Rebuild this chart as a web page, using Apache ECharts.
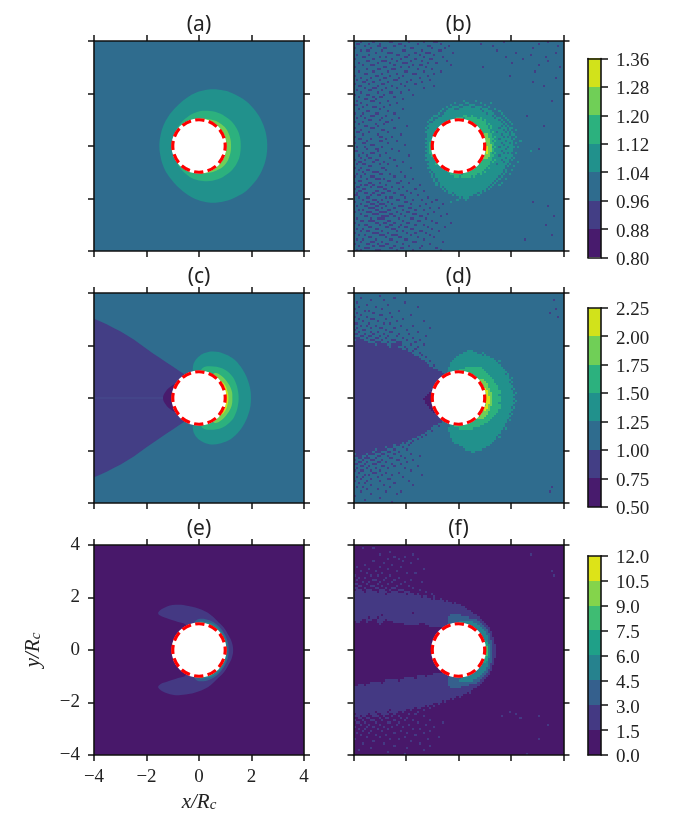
<!DOCTYPE html>
<html>
<head>
<meta charset="utf-8">
<style>html,body{margin:0;padding:0;background:#fff}#main{width:692px;height:830px}</style>
<script src="https://cdn.jsdelivr.net/npm/echarts@6/dist/echarts.min.js"></script>
</head>
<body>
<div id="main"></div>
<script>
const colors7 = ['#481b6d', '#433e85', '#2f6c8e', '#21918c', '#2cb17e', '#70cf57', '#d2e21b'];
const colors8 = ['#48186a', '#443983', '#35608d', '#26828e', '#1fa088', '#3fbc73', '#84d44b', '#dde318'];

const titles = ['(a)', '(b)', '(c)', '(d)', '(e)', '(f)'];
const axisTicks = [-4, -2, 0, 2, 4];
const cbTicks1 = [0.80, 0.88, 0.96, 1.04, 1.12, 1.20, 1.28, 1.36];
const cbTicks2 = [0.50, 0.75, 1.00, 1.25, 1.50, 1.75, 2.00, 2.25];
const cbTicks3 = [0.0, 1.5, 3.0, 4.5, 6.0, 7.5, 9.0, 10.5, 12.0];

// contour outlines, upper half (y>=0), lower half is the mirror
const aLevel3 = [[2.6,0],[2.58,0.3],[2.52,0.6],[2.41,0.9],[2.25,1.2],[2.05,1.46],[1.81,1.7],[1.52,1.89],[1.18,2.05],[0.85,2.13],[0.53,2.16],[0.2,2.12],[-0.12,2.03],[-0.42,1.87],[-0.7,1.65],[-0.97,1.38],[-1.2,1.08],[-1.37,0.74],[-1.47,0.37],[-1.51,0]];
const aLevel4 = [[1.59,0],[1.56,0.33],[1.47,0.6],[1.3,0.87],[1.07,1.08],[0.72,1.27],[0.3,1.34],[-0.1,1.29],[-0.45,1.1],[-0.75,0.8],[-0.93,0.45],[-0.98,0]];
const aLevel5 = [[1.22,0],[1.2,0.25],[1.12,0.5],[0.98,0.72],[0.78,0.88],[0.55,0.98],[0.3,1.03],[0.1,1.03],[0,0.9],[0,0]];

const cWedge = [[0,0],[0,0.55],[-0.5,0.87],[-0.75,1.03],[-1,1.2],[-1.25,1.36],[-1.5,1.53],[-1.75,1.7],[-2,1.88],[-2.25,2.06],[-2.5,2.24],[-2.75,2.39],[-3,2.54],[-3.25,2.67],[-3.5,2.8],[-3.75,2.91],[-4,3.02],[-4.4,3.2],[-4.4,0]];
const cLobe = [[-0.4,0],[-0.4,0.5],[-0.84,0.55],[-1.1,0.42],[-1.3,0.2],[-1.37,0]];
const cSeam = [[-4,0],[-1.37,0]];
const cLevel3 = [[1.98,0],[1.96,0.3],[1.88,0.62],[1.74,0.95],[1.53,1.27],[1.27,1.52],[0.95,1.69],[0.56,1.77],[0.25,1.72],[0.02,1.6],[-0.15,1.42],[-0.23,1.2],[-0.22,0.95],[0,0]];
const cLevel4 = [[1.51,0],[1.48,0.3],[1.4,0.58],[1.25,0.85],[0.9,1.12],[0.43,1.21],[0.15,1.15],[0.05,0.95],[0,0]];
const cLevel5 = [[1.27,0],[1.24,0.3],[1.08,0.6],[0.85,0.85],[0.6,0.95],[0.5,0.8],[0,0]];
const cLevel6 = [[1.12,0],[1.07,0.3],[0.95,0.55],[0.8,0.62],[0,0]];

const eLevel1 = [[1.3,0],[1.25,0.3],[1.13,0.55],[0.95,0.85],[0.75,1.05],[0.45,1.33],[0.11,1.53],[-0.4,1.68],[-0.9,1.72],[-1.3,1.62],[-1.55,1.44],[-1.5,1.32],[-1.2,1.2],[-0.8,1.07],[-0.5,0.95],[0,0]];
const eLevel2 = [[1.13,0],[1.1,0.3],[0.95,0.65],[0.7,0.95],[0.4,1.13],[0.05,1.19],[-0.15,1.1],[-0.2,0.95],[0,0]];
const eLevel3 = [[1.07,0],[1.03,0.35],[0.85,0.7],[0.55,0.98],[0.25,1.07],[0,1.05],[0,0]];
const eLevel4 = [[1.04,0],[1.0,0.35],[0.85,0.6],[0.65,0.82],[0.4,0.95],[0,0]];
const eLevel5 = [[1.02,0],[0.98,0.2],[0.92,0.45],[0,0]];

// binned panels: one string per row from the top, "level:col col-col,level:..."
const bRows = [
'1:3 9 17-18 26 33 38-39 71 92',
'1:1-2 7 12 21-22 30 41 60 88',
'1:5 11-12 19 24 35-36 45 66 97',
'1:0 8 14-15 27-28 37 43 85',
'1:3 6-7 13 23-24 32 40-41 68',
'1:10 16-18 29 34-36 47 77 96',
'1:1 7 20-21 26 31 38 84',
'1:4-5 12 15 24-25 33 42 72 91',
'1:0 9 18 22 29 36-37 80',
'1:6-7 13-15 20 27 32 44 92',
'1:2 11 17 23-25 35 39 75',
'1:4 8-9 19 28 31-32 46 88',
'1:0 14-15 22 26 34 61 98',
'1:6 11-12 18-19 30 37',
'1:2 9 16 24-25 33 41 86',
'1:5-6 13 20 28-29 38',
'1:0 10-11 17 23 35 74',
'1:3 8 14-15 21 31 96',
'1:1 6 12 19-20 27 36',
'1:4-5 9 16 25 32 85',
'1:0 7 13-14 22 29',
'1:2-3 11 18 24 38 90',
'1:5 9-10 15 20 33',
'1:1 7-8 13 26',
'1:3 11 17-18 22',
'1:0 6-7 14 28',
'1:2 9 12-13 19',
'1:5-6 10 23',
'1:1 8-9 16 94,3:52 58',
'1:3 12 20,3:48 53-54 60 65',
'1:0-1 6 17,3:46 50-51 55-57 62',
'1:4 9-10 14,3:44 47-49 52-55 58-60 64',
'1:2 12 23,3:42 45-47 50-59 61-63 67',
'1:6-7 16,3:41 44-60 62-65 69',
'1:0 4 10-11 19,3:40 43-62 64-66 70',
'1:3 8-9 15 82,3:38-39 42-65 67 71,4:52-53 56',
'1:1 5 13 21,3:37 40-66 68-69 72,4:49-51 53-58 60',
'1:7-8 12 18,3:36-37 39-68 70 73,4:46-48 50-60 62',
'1:0 4 15-16,3:35 38-69 71 74,4:44-47 49-62',
'1:2 10 14,3:36-70 72 75,4:46 56-62 64',
'1:5-6 11 25 90,3:35-71 73,4:55-63 65,2:70',
'1:0 8-9 19,3:34 36-72 74-75,4:56-63 65,2:69',
'1:3 13-14,3:35-72 74 77,4:57-64,2:71',
'1:1-2 7 16,3:34-73 75,4:58-64 66,2:68 72',
'1:4 11 22,3:35-73 75-76,4:58-65,5:62-63,2:70',
'1:0 12-13 18,3:35-74 77,4:59-65 67,5:62-63,2:71 73',
'1:2-3 8 15,3:34-74 76,4:59-66,5:62-64,2:69',
'1:6 12-13 20,3:35-75 79,4:59-65 67,5:62-64,2:72',
'1:0 4-5 16,3:34-75 77,4:59-66,4:36-37,5:63-64,2:70 74',
'1:8-9 24,3:35-75,4:59-66,4:36,5:63-65,2:71',
'1:1 5 13,3:34-76 78,4:59-65 67,4:36-37,5:63-65,6:63,2:69 73',
'1:6 10-11 18 88,3:35-75,4:59-66,4:36-37,5:63-65,6:63,2:72',
'1:0-1 11 21,3:34-75 84,4:59-66,4:36,5:63-65,6:63,2:70',
'1:4 8-9 15,3:35-74 77,4:59-65 67,4:36-37,5:62-64,6:63,2:71 73',
'1:2 6 12 26,3:34-75,4:58-66,4:37,5:61-64,2:69',
'1:3 7-8 17,3:35-74 76,4:58-65,5:61-63,2:72',
'1:0 5 10-11 19,3:34-73 75,4:57-65 67,2:70',
'1:2-3 9 14 23,3:36-73 78,4:56-64 66,2:71',
'1:1 4-5 12 16,3:35-72 74,4:54-64 39-41,2:68',
'1:7-8 20,3:36-71 73 76,4:50-63 42-45',
'1:0 3 13-14 27,3:35-71,4:46-62 64',
'1:2 6-7 15,3:37-70 72 75,4:44-61',
'1:4 9-11 22,3:36 38-70 72,4:45-60 62',
'1:1 5 12-13 17,3:37 39-69 71 74,4:46-50 52-58 60',
'1:0 3 8-9 19 24,3:37 39-68 70,4:48-49 51-55 57',
'1:6 10-12 14 28,3:38 40-67 69 72',
'1:2-3 16-17 22,3:38 40-66 68',
'1:0 7-8 12 20-21 26,3:39 41-65 67 70',
'1:3 5-6 9 15 31,3:39 41-64 66 69',
'1:1-2 8 11-13 18 23,3:41 43-63 65',
'1:0 4-5 14-15 21 29,3:42 44-62 64',
'1:2-3 10-11 16-17 25 33,3:43 45-60 62',
'1:1 5-6 9 13-14 19 27,3:45-46 48-58 60',
'1:0-1 8 11-12 22-23 30,3:47 49-56 59',
'1:2 6-7 15 17-18 24 35,3:50 52-54',
'1:4 9-10 13 20-21 28 32 39,3:49 53',
'1:0 6-7 11 16 24-25 37 85,3:46',
'1:3 8-9 12-14 18 27 34 42',
'1:1 5-6 10-11 15 21-23 31 92',
'1:7-9 13 19 26-27 36 40',
'1:2 4 10-11 16-17 23 29 33',
'1:0 6-8 12-15 20 25-26 38',
'1:3 9-11 17-18 22 28-29 35 44',
'1:5-6 13-16 19 24 31-32 41 95',
'1:1 8 11-14 21 27-28 34',
'1:3-4 7-9 16-17 23 30-31 37',
'1:0 10-11 14-15 19 25-26 39 46',
'1:2 5-6 12 17-18 22 29 33 91',
'1:7-8 15-16 21 24-25 35 43',
'1:1 4 10-11 18-19 27-28 37',
'1:3 6-7 13 20 23 31-32 40',
'1:0 9-11 16 25 29 34',
'1:2 5 12-14 18-20 27 36 94',
'1:7-8 15 21-22 30 38',
'1:1 4 10 17-18 24-25 33 81',
'1:3 8-9 13 20 28-29 42',
'1:0 6-7 11 15-16 23 36',
'1:2 9 12-14 19 26 32',
'1:5-7 17-18 22-23 31 39',
'1:1 3 10-12 20 28 41'
];

const dRows = [
'',
'1:12',
'1:3 19',
'1:8 14 95',
'1:1 24',
'1:6 16',
'1:2 10 30',
'1:0 13 96',
'1:5 7 21',
'1:1 9 17 93',
'1:3 12-13 27',
'1:0 6 18 97',
'1:2 8-9 15 23',
'1:4 11 20 33',
'1:0-1 7 14 17',
'1:3 6 10 22 28',
'1:1 8 12-13 19 36',
'1:0 4-5 15 25',
'1:2 8 11 17-18 30',
'1:0-1 5 9 14 21 26',
'1:3-4 7-8 12 16 20 34',
'1:0-2 6 10-11 15 23 28',
'1:1-4 8-9 13 18-19 25 31',
'1:0-6 10-12 16 20-22 29',
'1:0-9 11-15 18-22 27 33',
'1:0-16 18-20 24 30',
'1:0-22 25 29',
'1:0-25 28,3:54-56',
'1:0-27 31,3:52-58 61',
'1:0-28 32,3:50-60 62',
'1:0-30 34,3:49-64',
'1:0-31,3:48-66',
'1:0-33 36,3:47-67 69',
'1:0-34,3:46-68',
'1:0-35 38,3:46-69',
'1:0-37,3:45-70,4:53-60',
'1:0-39,3:45-71,4:50-61',
'1:0-41,3:45-72,4:49-62',
'1:0-42,3:46-71 73,4:49-63',
'1:0-45,3:52-73,4:52-64',
'1:0-45,3:54-73 75,4:54-65',
'1:0-45,3:55-74,4:55-66,5:59-61',
'1:0-45,3:56-73 75,4:56-66,5:60-62',
'1:0-45,3:56-74,4:56-67,5:60-63',
'1:0-45,3:57-75,4:57-68,5:61-63',
'1:0-45,3:57-74 76,4:57-68,5:61-64,6:62',
'1:0-45,3:57-75,4:57-69,5:61-64,6:62-63,0:37-39',
'1:0-45,3:57-75 77,4:57-69,5:61-65,6:63,0:36-39',
'1:0-45,3:57-76,4:57-68,5:61-65,6:63,0:35-38',
'1:0-45,3:57-75,4:57-69,5:61-65,6:63-64,0:34-38',
'1:0-45,3:57-76,4:57-69,5:61-65,6:63-64,0:33-38',
'1:0-45,3:57-75 77,4:57-69,5:61-65,6:63-64,0:34-38',
'1:0-45,3:57-76,4:57-68,5:61-65,6:63-64,0:34-38',
'1:0-45,3:57-75,4:57-69,5:61-65,6:63,0:35-38',
'1:0-45,3:57-74 76,4:57-69,5:61-64,6:62-63,0:36-39',
'1:0-45,3:57-75,4:57-68,5:61-64,6:62,0:37-40',
'1:0-45,3:56-74,4:56-68,5:61-63,0:38-40',
'1:0-45,3:56-73 75,4:56-67,5:60-63',
'1:0-45,3:55-74,4:55-66,5:60-62',
'1:0-45,3:54-73,4:54-65,5:59-61',
'1:0-43,3:52-72 74,4:52-64',
'1:0-41,3:47-72,4:48-63',
'1:0-39,3:46-71,4:47-61',
'1:0-37 40,3:46-71,4:48-59',
'1:0-36,3:45-70 72,4:50-56',
'1:0-34 37,3:45-69',
'1:0-33,3:46-69',
'1:0-31 34,3:46-68',
'1:0-29 32,3:46-67 69',
'1:0-27 30,3:47-67',
'1:0-25 28,3:47-66',
'1:0-22 24 27,3:48-65',
'1:0-18 20-21 26,3:50-64',
'1:0-14 16-18 23,3:52-62',
'1:0-9 11-15 19 25,3:53-60',
'1:0-8 10-12 16-17 21,3:56-57',
'1:1-5 7-9 13-14 19 27',
'1:0-3 6 11-12 16 22 31',
'1:2-3 5-7 10 17-18 24',
'1:0 4 8-9 13 20-21 28',
'1:2-3 6 11-12 15 25',
'1:0-1 5 9-10 18 22',
'1:3-4 7 13-14 19 30',
'1:1 6 10 16 24',
'1:0 3-4 8 12 27',
'1:2 9-10 15 21',
'1:5 7 13 18 32',
'1:1 4 11 23',
'1:3 8 16-17',
'1:0 6 12 26',
'1:2 5 19',
'1:8 14 28',
'1:1 4 17 94',
'1:6 11',
'1:3 15 22 93',
'1:8 20',
'1:0',
'1:12',
'1:5',
'1:18'
];

const fRows = [
'',
'1:4 9',
'',
'1:17',
'1:12 28 84',
'1:19 24',
'1:16 21 30',
'1:9 23',
'1:14 27',
'1:5 18',
'1:1 12 22',
'1:7 16 33',
'1:3 10 20 94',
'1:6 13 25 29',
'1:0 8 11 17 95',
'1:2 5 15 21',
'1:1 9-10 14 19 27',
'1:4 7 12 18 24 32',
'1:0-1 6 11 16 22',
'1:2-3 8-9 13 20 26',
'1:0-1 5 10-11 15 18-19 28',
'1:1-3 6-8 12-14 17 21-23 31',
'1:0-4 6-10 12-15 18-20 24-26 34',
'1:0-14 16-24 26-28 30 37',
'1:0-31 33-34 38',
'1:0-36 38 41',
'1:0-42 44',
'1:0-46 48',
'1:0-50',
'1:0-52',
'1:0-53',
'1:0-55',
'1:0-27 29-56',
'1:0-12 14-58,2:46-50',
'1:0-6 8-10 12-59,2:45-54',
'1:0-3 6-8 11-14 16-60,2:45-58',
'1:1-2 6 11-13 19-61,2:45-59,3:50-56',
'1:12 24-30 34-62,2:45-60,3:51-58',
'1:36-46 48-63,2:46-61,3:52-59',
'1:56-64,2:56-62,3:56-60',
'1:54-64,2:54-63,3:54-61',
'1:55-65,2:55-63,3:55-62',
'1:56-65,2:56-64,3:56-62',
'1:57-65,2:57-64,3:57-63',
'1:58-66,2:58-64,3:58-63',
'1:59-66,2:59-65,3:59-63,4:60-62',
'1:59-66,2:59-65,3:59-63,4:60-63',
'1:59-67,2:59-65,3:59-64,4:60-63,5:62',
'1:59-67,2:59-65,3:59-64,4:60-63,5:62-63',
'1:59-67,2:59-65,3:59-64,4:60-63,5:62-63',
'1:59-67,2:59-65,3:59-64,4:60-63,5:62-63',
'1:59-67,2:59-65,3:59-64,4:60-63,5:62-63',
'1:59-67,2:59-65,3:59-64,4:60-63,5:62-63',
'1:59-67,2:59-65,3:59-64,4:60-63,5:62',
'1:59-66,2:59-65,3:59-63,4:60-63',
'1:59-66,2:59-65,3:59-63,4:60-62',
'1:58-66,2:58-64,3:58-63',
'1:57-65,2:57-64,3:57-63',
'1:56-65,2:56-64,3:56-62',
'1:55-65,2:55-63,3:55-62',
'1:54-64,2:54-63,3:54-61',
'1:38-46 53-64,2:53-62,3:53-60',
'1:30-33 35-46 48-63,2:46-61,3:52-59',
'1:24-28 30-62,2:45-60,3:51-58',
'1:15-20 22-61,2:45-59,3:50-56',
'1:8-12 14-60,2:45-58',
'1:2-4 6-59,2:45-54',
'1:0-58,2:46-50',
'1:0-56',
'1:0-55',
'1:0-53 55',
'1:0-51',
'1:0-48 50',
'1:0-45 47',
'1:0-41 43',
'1:0-37 40',
'1:0-33 35 38',
'1:0-28 30-31 36',
'1:0-16 18-24 27 33',
'1:0-9 11-15 17-20 23 30 74',
'1:1-6 8-10 13-16 19 26 29 77',
'1:0-2 4-5 9-11 14 18 21 33 70 88',
'1:2-3 6-7 12 15-16 22 25 79',
'1:0 4 8-9 13 19 24 28 36',
'1:1-2 5 10 16-17 21 30 42',
'1:3 7 12 20 26 34 92',
'1:0 6 9 14 18 23 38',
'1:2 5 11 16 28 31',
'1:4 8 13 22 36',
'1:1 7 19 25 33',
'1:3 10 15 29',
'1:6 12 24 40',
'1:0 17 21 35 88',
'1:9 27',
'1:4 14 31',
'1:19 36',
'1:8 25',
'1:2 33',
'1:16',
'1:24 82',
'1:11'
];

const circleCenter = [[0, 0]];

function mirror(upper) {
  const lower = upper.slice(1, -1).reverse().map(p => [p[0], -p[1]]);
  return upper.concat(lower);
}

function parseRows(rows) {
  const cells = [];
  rows.forEach((row, r) => {
    row.split(',').forEach(g => {
      if (!g) return;
      const [lev, items] = g.split(':');
      items.split(' ').forEach(it => {
        const [a, b] = it.split('-').map(Number);
        const c1 = b === undefined ? a : b;
        cells.push([-4 + a * 0.08, 4 - r * 0.08, -4 + (c1 + 1) * 0.08, 4 - (r + 1) * 0.08, +lev]);
      });
    });
  });
  return cells;
}

const xAxis = [], yAxis = [], grid = [], series = [], title = [];
const frame = { lineStyle: { color: '#111', width: 1.6 }, onZero: false };
const tick = { length: 6, lineStyle: { color: '#111', width: 1.5 } };
const numFont = { fontFamily: 'Liberation Serif', fontSize: 19, color: '#222' };
const minus = v => String(v).replace('-', '\u2212');

function addPanel(i, left, top, showLabels) {
  grid.push({ left: left, top: top, width: 210, height: 210 });
  const g = grid.length - 1;
  const base = { type: 'value', gridIndex: g, min: axisTicks[0], max: axisTicks[4], interval: 2, z: 10,
    axisLine: Object.assign({ show: true }, frame), axisTick: Object.assign({ show: true }, tick), splitLine: { show: false } };
  const xi = xAxis.length, yi = yAxis.length;
  xAxis.push(Object.assign({}, base, { position: 'bottom',
    axisLabel: { show: showLabels, margin: 13, formatter: minus, ...numFont } }));
  xAxis.push(Object.assign({}, base, { position: 'top', axisLabel: { show: false } }));
  yAxis.push(Object.assign({}, base, { position: 'left',
    axisLabel: { show: showLabels, margin: 14, formatter: minus, ...numFont } }));
  yAxis.push(Object.assign({}, base, { position: 'right', axisLabel: { show: false } }));
  if (showLabels) {
    const rich = { i: { fontFamily: 'Liberation Serif', fontStyle: 'italic', fontSize: 21, color: '#222' },
      s: { fontFamily: 'Liberation Serif', fontStyle: 'italic', fontSize: 15, color: '#222', verticalAlign: 'bottom', padding: [6, 0, 0, 0] } };
    xAxis[xi].name = '{i|x/R}{s|c}';
    xAxis[xi].nameLocation = 'middle';
    xAxis[xi].nameGap = 37;
    xAxis[xi].nameTextStyle = { rich: rich };
    yAxis[yi].name = '{i|y/R}{s|c}';
    yAxis[yi].nameLocation = 'middle';
    yAxis[yi].nameGap = 50;
    yAxis[yi].nameTextStyle = { rich: rich };
  }
  title.push({ text: titles[i], left: left + 105, top: top - 26, padding: 0, textAlign: 'center',
    textStyle: { fontFamily: 'Noto Sans', fontWeight: 'normal', fontSize: 21, color: '#222' } });
  return { xAxisIndex: xi, yAxisIndex: yi };
}

function cellItem(palette) {
  return (params, api) => {
    const p0 = api.coord([api.value(0), api.value(1)]);
    const p1 = api.coord([api.value(2), api.value(3)]);
    const x0 = Math.round(p0[0]), y0 = Math.round(p0[1]);
    return { type: 'rect', shape: { x: x0, y: y0, width: Math.round(p1[0]) - x0, height: Math.round(p1[1]) - y0 },
      style: { fill: palette[api.value(4)] } };
  };
}

function addBase(ax, level, palette) {
  series.push(Object.assign({ type: 'custom', coordinateSystem: 'cartesian2d', silent: true, clip: true,
    encode: { x: [0, 2], y: [1, 3] }, data: [[-4, 4, 4, -4, level]], renderItem: cellItem(palette) }, ax));
}

function addLayer(ax, outline, color, smooth) {
  series.push(Object.assign({ type: 'custom', coordinateSystem: 'cartesian2d', silent: true, clip: true, data: outline,
    renderItem: (params, api) => {
      if (params.dataIndex !== 0) return null;
      return { type: 'polygon', shape: { points: outline.map(p => api.coord(p)), smooth: smooth },
        style: { fill: color } };
    } }, ax));
}

function addCells(ax, rows, palette) {
  series.push(Object.assign({ type: 'custom', coordinateSystem: 'cartesian2d', silent: true, clip: true,
    encode: { x: [0, 2], y: [1, 3] }, data: parseRows(rows), renderItem: cellItem(palette), progressive: 0 }, ax));
}

function addCircle(ax) {
  series.push(Object.assign({ type: 'custom', coordinateSystem: 'cartesian2d', silent: true, z: 5, data: circleCenter,
    renderItem: (params, api) => {
      const c = api.coord([api.value(0), api.value(1)]);
      const r = api.size([1, 1])[0];
      return { type: 'group', children: [
        { type: 'circle', shape: { cx: c[0], cy: c[1], r: r }, style: { fill: '#fff', stroke: '#fff', lineWidth: 2.5 } },
        { type: 'circle', shape: { cx: c[0], cy: c[1], r: r }, style: { fill: 'none', stroke: '#f00', lineWidth: 3.2, lineDash: [9.5, 4.25], lineDashOffset: 4.75 } }
      ] };
    } }, ax));
}

function addColorbar(top, height, ticks, digits, palette) {
  grid.push({ left: 588, top: top, width: 13, height: height });
  const g = grid.length - 1;
  const xi = xAxis.length, yi = yAxis.length;
  const plain = { axisLabel: { show: false }, axisTick: { show: false }, splitLine: { show: false },
    axisLine: Object.assign({ show: true }, frame), z: 10 };
  const range = { min: ticks[0], max: ticks[ticks.length - 1], interval: ticks[1] - ticks[0] };
  xAxis.push(Object.assign({ type: 'value', gridIndex: g, min: 0, max: 1, position: 'bottom' }, plain));
  xAxis.push(Object.assign({ type: 'value', gridIndex: g, min: 0, max: 1, position: 'top' }, plain));
  yAxis.push(Object.assign({ type: 'value', gridIndex: g, position: 'right', z: 10 }, range, {
    axisLine: Object.assign({ show: true }, frame), axisTick: { show: true, length: 7, lineStyle: { color: '#111', width: 1.5 } },
    splitLine: { show: false },
    axisLabel: { margin: 15, formatter: v => '{a|' + v.toFixed(digits) + '}',
      rich: { a: Object.assign({ padding: [5, 0, 0, 0] }, numFont) } } }));
  yAxis.push(Object.assign({ type: 'value', gridIndex: g, position: 'left' }, range, plain));
  const bands = ticks.slice(0, -1).map((t, k) => [0, t, 1, ticks[k + 1], k]);
  series.push({ type: 'custom', coordinateSystem: 'cartesian2d', silent: true, xAxisIndex: xi, yAxisIndex: yi,
    encode: { x: [0, 2], y: [1, 3] }, data: bands, renderItem: cellItem(palette) });
}

// panel a
let ax = addPanel(0, 94, 41, false);
addBase(ax, 2, colors7);
addLayer(ax, mirror(aLevel3), colors7[3], 0.4);
addLayer(ax, mirror(aLevel4), colors7[4], 0.4);
addLayer(ax, mirror(aLevel5), colors7[5], 0.4);
addCircle(ax);
// panel b
ax = addPanel(1, 353.5, 41, false);
addBase(ax, 2, colors7);
addCells(ax, bRows, colors7);
addCircle(ax);
// panel c
ax = addPanel(2, 94, 293, false);
addBase(ax, 2, colors7);
addLayer(ax, mirror(cWedge), colors7[1], 0);
series.push(Object.assign({ type: 'line', data: cSeam, symbol: 'none', silent: true,
  lineStyle: { color: '#485090', width: 0.8 } }, ax));
addLayer(ax, mirror(cLobe), colors7[0], 0.4);
addLayer(ax, mirror(cLevel3), colors7[3], 0.4);
addLayer(ax, mirror(cLevel4), colors7[4], 0.4);
addLayer(ax, mirror(cLevel5), colors7[5], 0.4);
addLayer(ax, mirror(cLevel6), colors7[6], 0.4);
addCircle(ax);
// panel d
ax = addPanel(3, 353.5, 293, false);
addBase(ax, 2, colors7);
addCells(ax, dRows, colors7);
addCircle(ax);
// panel e
ax = addPanel(4, 94, 545, true);
addBase(ax, 0, colors8);
addLayer(ax, mirror(eLevel1), colors8[1], 0.4);
addLayer(ax, mirror(eLevel2), colors8[2], 0.4);
addLayer(ax, mirror(eLevel3), colors8[3], 0.4);
addLayer(ax, mirror(eLevel4), colors8[4], 0.4);
addLayer(ax, mirror(eLevel5), colors8[5], 0.4);
addCircle(ax);
// panel f
ax = addPanel(5, 353.5, 545, false);
addBase(ax, 0, colors8);
addCells(ax, fRows, colors8);
addCircle(ax);

addColorbar(58.5, 199, cbTicks1, 2, colors7);
addColorbar(307.7, 199, cbTicks2, 2, colors7);
addColorbar(555.7, 199.3, cbTicks3, 1, colors8);

const chart = echarts.init(document.getElementById('main'));
chart.setOption({ animation: false, title, grid, xAxis, yAxis, series });
</script>
</body>
</html>
